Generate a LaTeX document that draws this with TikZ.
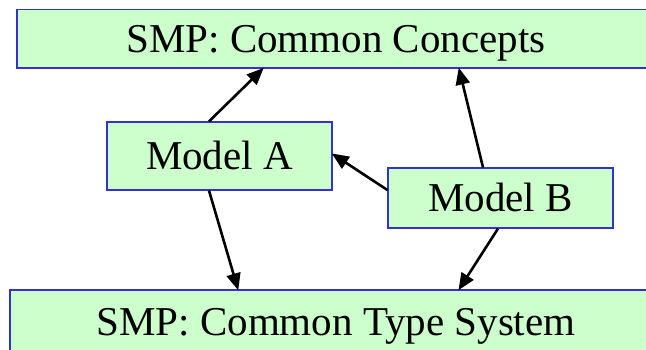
\documentclass[tikz,border=0pt]{standalone}
\usepackage{fontspec}
\setmainfont{Liberation Serif}
\usetikzlibrary{arrows.meta}
\definecolor{boxfill}{HTML}{CCFFCC}
\definecolor{boxline}{HTML}{3333CC}
\tikzset{
  box/.style={draw=boxline, fill=boxfill, line width=1.2pt, inner sep=0pt,
    text height=27pt, text depth=0pt,
    font=\fontsize{41}{49}\selectfont},
  link/.style={line width=2.6pt, -{Triangle[length=17pt,width=14pt]}, shorten >=-1pt}
}
\begin{document}
\begin{tikzpicture}[x=1pt,y=-1pt]
\useasboundingbox (0,0) rectangle (646,350);
\clip (0,0) rectangle (646,350);
\node[box, minimum width=638pt, minimum height=58.5pt] (cc) at (336,38.75) {SMP: Common Concepts};
\node[box, minimum width=652pt, minimum height=64pt] (ts) at (336,322) {SMP: Common Type System};
\node[box, minimum width=225pt, minimum height=68pt] (ma) at (219.5,156) {Model A};
\node[box, minimum width=225pt, minimum height=60pt] (mb) at (500.5,198) {Model B};
\draw[link] ([xshift=-10.5pt]ma.north) -- ([xshift=-73pt]cc.south);
\draw[link] ([xshift=-17.5pt]mb.north) -- ([xshift=123pt]cc.south);
\draw[link] ([yshift=8pt]mb.west) -- ([yshift=2pt]ma.east);
\draw[link] ([xshift=-10.5pt]ma.south) -- ([xshift=-98pt]ts.north);
\draw[link] ([xshift=-2.5pt]mb.south) -- ([xshift=123pt]ts.north);
\end{tikzpicture}
\end{document}
